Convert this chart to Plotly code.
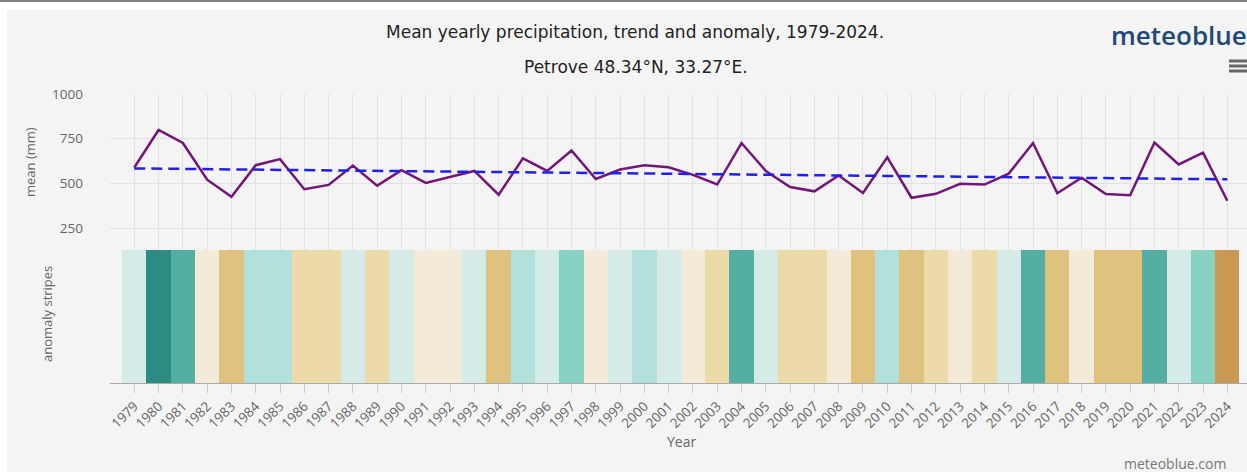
import plotly.graph_objects as go
from plotly.subplots import make_subplots

# Données
years = list(range(1979, 2025))
precip_mm = [589, 799, 726, 521, 426, 602, 636, 468, 492, 600,
             488, 574, 503, 536, 570, 437, 640, 570, 684, 525,
             578, 602, 590, 548, 494, 726, 570, 480, 456, 545,
             447, 646, 420, 442, 498, 494, 555, 726, 445, 532,
             441, 434, 729, 606, 672, 403]
trend_years = [1979, 2024]
trend_mm = [584, 523]
# classe d'anomalie (négatif = sec, positif = humide)
anomaly_class = [1, 5, 4, -1, -3, 2, 2, -2, -2, 1,
                 -2, 1, -1, -1, 1, -3, 2, 1, 3, -1,
                 1, 2, 1, -1, -2, 4, 1, -2, -2, -1,
                 -3, 2, -3, -2, -1, -2, 1, 4, -3, -1,
                 -3, -3, 4, 1, 3, -4]
y_ticks = [250, 500, 750, 1000]

palette = {-4: "#c99853", -3: "#dfc27d", -2: "#ecdaa9", -1: "#f3ead8",
           1: "#d5ebe8", 2: "#b2e0da", 3: "#88d2c4", 4: "#54aea4", 5: "#2c8b82"}

W, H = 1247, 472
L, R, T, B = 110, 0, 94, 89
PW, PH = W - L - R, H - T - B


def px_x(x):
    return (x - L) / PW


def px_y(y):
    return (H - B - y) / PH


split = px_y(250)
FONT = "Open Sans"
GREY = "#666666"

fig = make_subplots(rows=2, cols=1, shared_xaxes=False, vertical_spacing=0)

fig.add_trace(go.Scatter(x=years, y=precip_mm, mode="lines",
                         line=dict(color="#731678", width=2.5),
                         name="mean"), row=1, col=1)
fig.add_trace(go.Scatter(x=trend_years, y=trend_mm, mode="lines",
                         line=dict(color="#2020ee", width=2.5, dash="11px,6px"),
                         name="trend"), row=1, col=1)
fig.add_trace(go.Bar(x=years, y=[1] * len(years),
                     marker=dict(color=[palette[c] for c in anomaly_class], line_width=0),
                     name="anomaly"), row=2, col=1)

xr = [1978.0, 2024.81]
fig.update_layout(
    width=W, height=H,
    margin=dict(l=L, r=R, t=T, b=B),
    paper_bgcolor="#f4f4f4", plot_bgcolor="#f4f4f4",
    showlegend=False, bargap=0,
    font=dict(family=FONT, color=GREY, size=13),
    xaxis=dict(domain=[0, 1], range=xr, tickvals=years, showticklabels=False,
               showgrid=True, gridcolor="#e2e2e2", zeroline=False, ticks=""),
    yaxis=dict(domain=[split, 1], range=[128, 1000], tickvals=y_ticks,
               showgrid=True, gridcolor="#e2e2e2", zeroline=False,
               ticklabelstandoff=26, tickfont=dict(size=13.5, color=GREY)),
    xaxis2=dict(domain=[0, 1], range=xr, tickvals=years, ticktext=[str(y) for y in years],
                tickangle=-45, ticks="outside", ticklen=9, tickcolor="#cccccc",
                showgrid=False, zeroline=False, showline=True, linecolor="#aaaaaa",
                tickfont=dict(size=13.5, color=GREY)),
    yaxis2=dict(domain=[0, split], range=[0, 1], showticklabels=False,
                showgrid=False, zeroline=False),
)

ann = [
    dict(text="Mean yearly precipitation, trend and anomaly, 1979-2024.",
         x=px_x(635), y=px_y(32), font=dict(family="DejaVu Sans", size=17, color="#222222")),
    dict(text="Petrove 48.34°N, 33.27°E.",
         x=px_x(636), y=px_y(67), font=dict(family="DejaVu Sans", size=17, color="#222222")),
    dict(text="mean (mm)", x=px_x(30), y=px_y(162), textangle=-90,
         font=dict(size=13, color=GREY)),
    dict(text="anomaly stripes", x=px_x(47), y=px_y(314), textangle=-90,
         font=dict(size=13, color=GREY)),
    dict(text="Year", x=px_x(681), y=px_y(441), font=dict(size=14, color=GREY)),
    dict(text="meteoblue.com", x=px_x(1228), y=px_y(463), xanchor="right",
         font=dict(size=14, color="#777777")),
    dict(text="meteoblue", x=px_x(1109), y=px_y(35), xanchor="left",
         font=dict(size=26, color="#1f4a78", weight=600)),
]
for a in ann:
    a.setdefault("xanchor", "center")
    fig.add_annotation(xref="paper", yref="paper", yanchor="middle",
                       showarrow=False, **a)

# cadre de la page et icône menu
shapes = [
    dict(type="rect", x0=px_x(0), x1=px_x(7), y0=px_y(0), y1=px_y(H),
         fillcolor="white", line_width=0),
    dict(type="rect", x0=px_x(0), x1=px_x(W), y0=px_y(0), y1=px_y(10),
         fillcolor="white", line_width=0),
    dict(type="rect", x0=px_x(0), x1=px_x(W), y0=px_y(0), y1=px_y(2),
         fillcolor="#808080", line_width=0),
]
for yy in (61, 66, 71):
    shapes.append(dict(type="line", x0=px_x(1229), x1=px_x(1247), y0=px_y(yy), y1=px_y(yy),
                       line=dict(color="#666666", width=3)))
for s in shapes:
    fig.add_shape(xref="paper", yref="paper", layer="above", **s)

fig.write_html("out.html", config={"displayModeBar": False},
               post_script="document.body.style.margin='0';")
